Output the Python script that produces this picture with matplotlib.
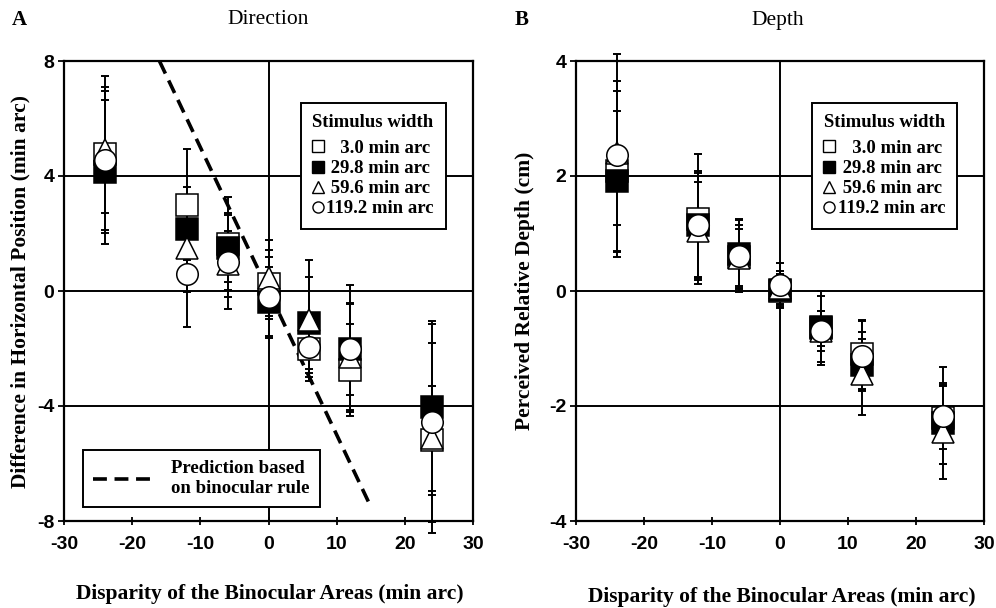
import matplotlib
matplotlib.use('Agg')
import matplotlib.pyplot as plt
from matplotlib.lines import Line2D
from matplotlib.font_manager import FontProperties

# ---------------- data ----------------
disparity = [-24, -12, -6, 0, 6, 12, 24]
width_labels = ['   3.0 min arc', ' 29.8 min arc', ' 59.6 min arc', '119.2 min arc']

# Panel A: difference in horizontal position (min arc)
dir_w30 = [4.76, 3.0, 1.65, 0.24, -2.0, -2.75, -5.19]
dir_w298 = [4.13, 2.16, 1.5, -0.38, -1.1, -2.0, -4.05]
dir_w596 = [4.9, 1.5, 0.95, 0.45, -1.02, -2.3, -5.1]
dir_w1192 = [4.55, 0.6, 1.0, -0.22, -1.96, -2.0, -4.55]
dir_err_w30 = [2.73, 1.93, 1.62, 1.2, 1.0, 1.6, 1.9]
dir_err_w298 = [2.5, 1.45, 1.2, 1.2, 1.6, 2.2, 2.9]
dir_err_w596 = [2.2, 1.55, 1.15, 1.33, 2.1, 1.85, 3.3]
dir_err_w1192 = [2.42, 1.86, 1.64, 1.41, 0.9, 1.6, 3.5]

# prediction based on binocular rule
pred_disparity = [-16, 15]
pred_shift = [8.0, -7.5]

# Panel B: perceived relative depth (cm)
dep_w30 = [2.08, 1.25, 0.6, 0.0, -0.65, -1.1, -2.2]
dep_w298 = [1.91, 1.15, 0.65, 0.02, -0.62, -1.29, -2.3]
dep_w596 = [2.4, 1.05, 0.58, 0.05, -0.7, -1.44, -2.45]
dep_w1192 = [2.36, 1.15, 0.61, 0.1, -0.69, -1.13, -2.17]
dep_err_w30 = [1.4, 1.13, 0.55, 0.3, 0.3, 0.6, 0.55]
dep_err_w298 = [1.22, 0.9, 0.61, 0.25, 0.62, 0.45, 0.7]
dep_err_w596 = [1.26, 0.85, 0.5, 0.3, 0.35, 0.72, 0.82]
dep_err_w1192 = [1.77, 0.93, 0.62, 0.38, 0.6, 0.6, 0.84]

x_ticks = [-30, -20, -10, 0, 10, 20, 30]
a_ticks = [-8, -4, 0, 4, 8]
b_ticks = [-4, -2, 0, 2, 4]

# ---------------- style ----------------
plt.rcParams['lines.scale_dashes'] = False
SERIF = 'Liberation Serif'
SANS = 'Liberation Sans'
styles = [('s', 'white'), ('s', 'black'), ('^', 'white'), ('o', 'white')]

W, H = 996, 608
fig = plt.figure(figsize=(W / 100, H / 100), dpi=100)


def px_axes(left, top, right, bottom):
    return fig.add_axes([left / W, 1 - bottom / H, (right - left) / W, (bottom - top) / H])


axA = px_axes(64, 61, 473, 521)
axB = px_axes(576, 61, 984, 521)


def draw_panel(ax, series, errs, yticks):
    lim = yticks[-1]
    ax.set_xlim(-30, 30)
    ax.set_ylim(-lim, lim)
    for v in yticks[1:-1]:
        ax.axhline(v, color='black', lw=1.4, zorder=1)
    ax.axvline(0, color='black', lw=1.4, zorder=1)
    for vals, e in zip(series, errs):
        cont = ax.errorbar(disparity, vals, yerr=e, fmt='none', ecolor='black',
                           elinewidth=1.4, capsize=2.8, capthick=1.4, zorder=2)
        for art in cont.get_children():
            art.set_clip_on(False)
    for i, (vals, (m, fc)) in enumerate(zip(series, styles)):
        ax.plot(disparity, vals, ls='none', marker=m, ms=15.5, mfc=fc, mec='black',
                mew=1.1, zorder=4 + i, clip_on=False)
    for s in ax.spines.values():
        s.set_linewidth(1.6)
    ax.set_xticks(x_ticks)
    ax.set_yticks(yticks)
    ax.set_xticklabels([str(t) for t in x_ticks])
    ax.set_yticklabels([str(t) for t in yticks])
    ax.tick_params(axis='x', direction='inout', length=6, width=1.3, pad=8)
    ax.tick_params(axis='y', direction='out', length=4, width=1.3, pad=3)
    for lab in ax.get_xticklabels() + ax.get_yticklabels():
        lab.set_fontfamily(SANS)
        lab.set_fontweight('bold')
        lab.set_fontsize(14)


draw_panel(axA, [dir_w30, dir_w298, dir_w596, dir_w1192],
           [dir_err_w30, dir_err_w298, dir_err_w596, dir_err_w1192], a_ticks)
axA.plot(pred_disparity, pred_shift, color='black', lw=2.6, dashes=(10, 5.5),
         zorder=3)

draw_panel(axB, [dep_w30, dep_w298, dep_w596, dep_w1192],
           [dep_err_w30, dep_err_w298, dep_err_w596, dep_err_w1192], b_ticks)

legfont = FontProperties(family=SERIF, weight='bold', size=13.5)


def width_legend(ax):
    handles = [Line2D([], [], ls='none', marker=m, ms=8, mfc=fc, mec='black', mew=1.0)
               for m, fc in styles]
    leg = ax.legend(handles, width_labels, title='Stimulus width', loc='upper left',
                    bbox_to_anchor=(0.579, 0.909), frameon=True, fancybox=False,
                    edgecolor='black', framealpha=1, prop=legfont,
                    title_fontproperties=legfont, handlelength=0.6,
                    handletextpad=0.15, borderpad=0.62, labelspacing=0.16,
                    borderaxespad=0, alignment='left')
    try:
        leg._legend_box.sep = 6
    except Exception:
        pass
    leg.get_frame().set_linewidth(1.4)
    leg.set_zorder(10)
    return leg


legA = width_legend(axA)
axA.add_artist(legA)
pred_handle = Line2D([], [], color='black', lw=2.6, dashes=(10, 5.5))
leg2 = axA.legend([pred_handle], ['Prediction based\non binocular rule'],
                  loc='lower left', bbox_to_anchor=(0.046, 0.03), frameon=True,
                  fancybox=False, edgecolor='black', framealpha=1, prop=legfont,
                  handlelength=3.1, handletextpad=1.05, borderpad=0.55,
                  borderaxespad=0)
leg2.get_frame().set_linewidth(1.4)
leg2.set_zorder(10)
width_legend(axB)

# ---------------- text ----------------
def ftext(x, y, s, **kw):
    fig.text(x / W, 1 - y / H, s, ha='center', va='center', family=SERIF, **kw)


ftext(19, 20, 'A', fontsize=15, fontweight='bold')
ftext(522, 20, 'B', fontsize=15, fontweight='bold')
ftext(268, 20, 'Direction', fontsize=15.5)
ftext(778, 20, 'Depth', fontsize=15.5)
ftext(270, 594, 'Disparity of the Binocular Areas (min arc)', fontsize=15.5, fontweight='bold')
ftext(782, 597, 'Disparity of the Binocular Areas (min arc)', fontsize=15.5, fontweight='bold')
ftext(20, 291, 'Difference in Horizontal Position (min arc)', fontsize=15.5,
      fontweight='bold', rotation=90)
ftext(525, 291, 'Perceived Relative Depth (cm)', fontsize=15.5,
      fontweight='bold', rotation=90)

fig.savefig('out.png', dpi=100)
